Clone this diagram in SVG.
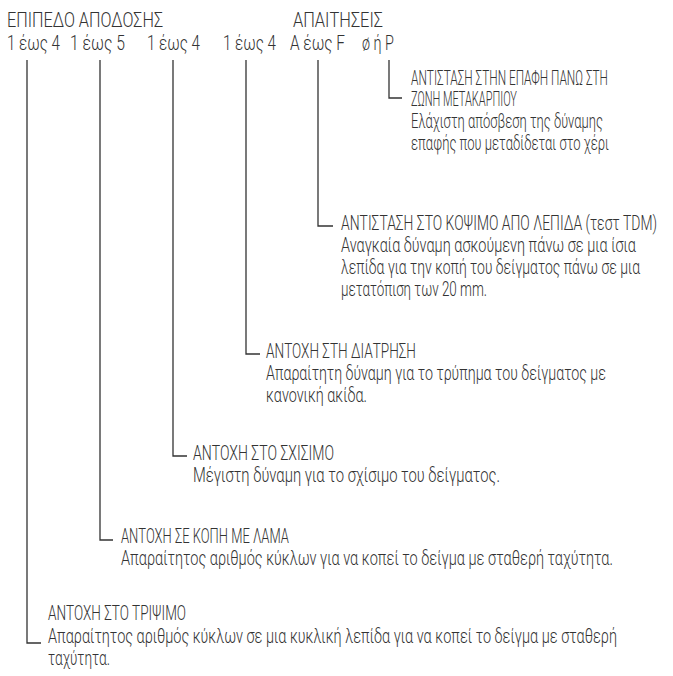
<svg xmlns="http://www.w3.org/2000/svg" width="673" height="676" viewBox="0 0 673 676">
<style>
text{font-family:Roboto,"Open Sans","DejaVu Sans",sans-serif;font-weight:300;font-size:19.5px;fill:#333}
.c{fill:none;stroke:#333;stroke-width:1.3}
</style>
<rect width="673" height="676" fill="#fff"/>
<g id="header">
<text transform="translate(7 27) scale(0.74 1)" textLength="210.8" lengthAdjust="spacingAndGlyphs">ΕΠΙΠΕΔΟ ΑΠΟΔΟΣΗΣ</text>
<text transform="translate(293 27) scale(0.74 1)" textLength="121.6" lengthAdjust="spacingAndGlyphs">ΑΠΑΙΤΗΣΕΙΣ</text>
<text transform="translate(7 50) scale(0.74 1)" textLength="71.6" lengthAdjust="spacingAndGlyphs">1 έως 4</text>
<text transform="translate(70 50) scale(0.74 1)" textLength="74.3" lengthAdjust="spacingAndGlyphs">1 έως 5</text>
<text transform="translate(147 50) scale(0.74 1)" textLength="71.6" lengthAdjust="spacingAndGlyphs">1 έως 4</text>
<text transform="translate(223 50) scale(0.74 1)" textLength="71.6" lengthAdjust="spacingAndGlyphs">1 έως 4</text>
<text transform="translate(290 50) scale(0.74 1)" textLength="74.3" lengthAdjust="spacingAndGlyphs">Α έως F</text>
<text transform="translate(362 50) scale(0.74 1)" textLength="43.2" lengthAdjust="spacingAndGlyphs">ø ή P</text>
</g>
<g id="connectors">
<path class="c" d="M389 60V98H402"/>
<path class="c" d="M318 60V226H333"/>
<path class="c" d="M246 60V354H260"/>
<path class="c" d="M173 60V456H187"/>
<path class="c" d="M100 60V540H113"/>
<path class="c" d="M27 60V643H41"/>
</g>
<g id="node-contact">
<text transform="translate(411 85) scale(0.74 1)" textLength="266.2" lengthAdjust="spacingAndGlyphs">ΑΝΤΙΣΤΑΣΗ ΣΤΗΝ ΕΠΑΦΗ ΠΑΝΩ ΣΤΗ</text>
<text transform="translate(411 106) scale(0.74 1)" textLength="143.2" lengthAdjust="spacingAndGlyphs">ΖΩΝΗ ΜΕΤΑΚΑΡΠΙΟΥ</text>
<text transform="translate(411 128) scale(0.74 1)" textLength="259.5" lengthAdjust="spacingAndGlyphs">Ελάχιστη απόσβεση της δύναμης</text>
<text transform="translate(411 150) scale(0.74 1)" textLength="267.6" lengthAdjust="spacingAndGlyphs">επαφής που μεταδίδεται στο χέρι</text>
</g>
<g id="node-blade">
<text transform="translate(341 230) scale(0.74 1)" textLength="427" lengthAdjust="spacingAndGlyphs">ΑΝΤΙΣΤΑΣΗ ΣΤΟ ΚΟΨΙΜΟ ΑΠΟ ΛΕΠΙΔΑ (τεστ TDM)</text>
<text transform="translate(341 252) scale(0.74 1)" textLength="398.6" lengthAdjust="spacingAndGlyphs">Αναγκαία δύναμη ασκούμενη πάνω σε μια ίσια</text>
<text transform="translate(341 274) scale(0.74 1)" textLength="404.1" lengthAdjust="spacingAndGlyphs">λεπίδα για την κοπή του δείγματος πάνω σε μια</text>
<text transform="translate(341 296) scale(0.74 1)" textLength="197.3" lengthAdjust="spacingAndGlyphs">μετατόπιση των 20 mm.</text>
</g>
<g id="node-puncture">
<text transform="translate(266 358) scale(0.74 1)" textLength="202.7" lengthAdjust="spacingAndGlyphs">ΑΝΤΟΧΗ ΣΤΗ ΔΙΑΤΡΗΣΗ</text>
<text transform="translate(266 380) scale(0.74 1)" textLength="459.5" lengthAdjust="spacingAndGlyphs">Απαραίτητη δύναμη για το τρύπημα του δείγματος με</text>
<text transform="translate(266 402) scale(0.74 1)" textLength="136.5" lengthAdjust="spacingAndGlyphs">κανονική ακίδα.</text>
</g>
<g id="node-tear">
<text transform="translate(193 460) scale(0.74 1)" textLength="190.5" lengthAdjust="spacingAndGlyphs">ΑΝΤΟΧΗ ΣΤΟ ΣΧΙΣΙΜΟ</text>
<text transform="translate(193 482) scale(0.74 1)" textLength="414.9" lengthAdjust="spacingAndGlyphs">Μέγιστη δύναμη για το σχίσιμο του δείγματος.</text>
</g>
<g id="node-cut">
<text transform="translate(121 543) scale(0.74 1)" textLength="227" lengthAdjust="spacingAndGlyphs">ΑΝΤΟΧΗ ΣΕ ΚΟΠΗ ΜΕ ΛΑΜΑ</text>
<text transform="translate(121 565) scale(0.74 1)" textLength="664.9" lengthAdjust="spacingAndGlyphs">Απαραίτητος αριθμός κύκλων για να κοπεί το δείγμα με σταθερή ταχύτητα.</text>
</g>
<g id="node-abrasion">
<text transform="translate(48 620) scale(0.74 1)" textLength="186.5" lengthAdjust="spacingAndGlyphs">ΑΝΤΟΧΗ ΣΤΟ ΤΡΙΨΙΜΟ</text>
<text transform="translate(48 643) scale(0.74 1)" textLength="768.9" lengthAdjust="spacingAndGlyphs">Απαραίτητος αριθμός κύκλων σε μια κυκλική λεπίδα για να κοπεί το δείγμα με σταθερή</text>
<text transform="translate(48 665) scale(0.74 1)" textLength="83.8" lengthAdjust="spacingAndGlyphs">ταχύτητα.</text>
</g>
</svg>
